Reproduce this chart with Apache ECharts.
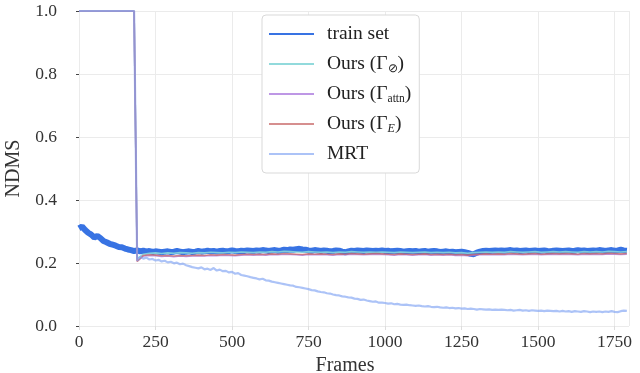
<!DOCTYPE html>
<html>
<head>
<meta charset="utf-8">
<script src="https://cdn.jsdelivr.net/npm/echarts@6/dist/echarts.min.js"></script>
<style>html,body{margin:0;padding:0;background:#fff}#c{width:640px;height:373px}</style>
</head>
<body>
<div id="c"></div>
<script>
// ---- data ----
const xTicks = [0, 250, 500, 750, 1000, 1250, 1500, 1750];
const yTicks = [0.0, 0.2, 0.4, 0.6, 0.8, 1.0];
const seriesNames = ['train set', 'Ours (Γ⊘)', 'Ours (Γattn)', 'Ours (ΓE)', 'MRT'];

// frames 0..1790 step 10
const trainValues = [
  0.310,0.316,0.305,0.296,0.290,0.281,0.286,0.279,0.270,0.266,
  0.261,0.258,0.255,0.251,0.250,0.246,0.243,0.241,0.238,
  0.240,0.237,0.239,0.236,0.238,0.235,0.237,0.236,0.234,0.236,
  0.237,0.235,0.236,0.238,0.236,0.234,0.236,0.237,0.235,0.236,
  0.238,0.236,0.237,0.239,0.237,0.238,0.236,0.238,0.239,0.237,
  0.238,0.240,0.238,0.237,0.239,0.238,0.240,0.239,0.238,0.240,
  0.239,0.241,0.240,0.238,0.240,0.241,0.239,0.240,0.242,0.241,
  0.243,0.242,0.244,0.245,0.243,0.242,0.240,0.239,0.241,0.240,
  0.238,0.240,0.239,0.237,0.238,0.240,0.239,0.236,0.234,0.237,
  0.239,0.238,0.240,0.239,0.238,0.240,0.239,0.238,0.239,0.238,
  0.240,0.238,0.239,0.237,0.238,0.239,0.238,0.236,0.237,0.238,
  0.237,0.238,0.236,0.237,0.238,0.236,0.237,0.238,0.237,0.235,
  0.236,0.237,0.235,0.236,0.234,0.235,0.236,0.234,0.232,0.229,
  0.228,0.233,0.236,0.238,0.239,0.238,0.239,0.240,0.239,0.240,
  0.239,0.240,0.241,0.239,0.240,0.238,0.239,0.240,0.238,0.239,
  0.240,0.238,0.239,0.240,0.238,0.237,0.239,0.240,0.239,0.238,
  0.239,0.240,0.238,0.239,0.241,0.239,0.240,0.238,0.239,0.240,
  0.239,0.241,0.240,0.238,0.240,0.241,0.239,0.240,0.242,0.240,0.239
];

// frames 0..1790 step 10
const mrtValues = [
  1,1,1,1,1,1,1,1,1,1,1,1,1,1,1,1,1,1,1,
  0.208,0.219,0.214,0.217,0.211,0.213,0.208,0.210,0.205,0.207,
  0.202,0.204,0.199,0.201,0.196,0.198,0.193,0.190,0.187,0.185,
  0.183,0.186,0.180,0.182,0.178,0.184,0.176,0.179,0.174,0.175,
  0.170,0.172,0.166,0.168,0.162,0.160,0.158,0.155,0.153,0.151,
  0.148,0.150,0.145,0.144,0.141,0.139,0.137,0.135,0.133,0.131,
  0.129,0.128,0.124,0.123,0.121,0.119,0.117,0.114,0.113,0.110,
  0.108,0.107,0.104,0.103,0.100,0.098,0.097,0.094,0.093,0.091,
  0.090,0.087,0.086,0.083,0.084,0.081,0.079,0.077,0.078,0.074,
  0.074,0.073,0.071,0.072,0.069,0.070,0.068,0.067,0.068,0.066,
  0.065,0.064,0.065,0.063,0.062,0.063,0.061,0.060,0.061,0.059,
  0.058,0.059,0.057,0.058,0.056,0.057,0.055,0.056,0.054,0.055,
  0.054,0.052,0.054,0.053,0.052,0.053,0.051,0.052,0.051,0.052,
  0.051,0.050,0.051,0.049,0.050,0.051,0.049,0.050,0.048,0.050,
  0.049,0.048,0.049,0.047,0.049,0.048,0.047,0.048,0.046,0.048,
  0.046,0.047,0.045,0.047,0.046,0.045,0.047,0.046,0.044,0.046,
  0.045,0.046,0.044,0.046,0.045,0.047,0.045,0.044,0.047,0.049,0.048
];

// frames 0..180 step 10, then 190..1790 step 20
const oursNullValues = [
  1,1,1,1,1,1,1,1,1,1,1,1,1,1,1,1,1,1,1,
  0.214,0.228,0.231,0.232,0.230,0.232,0.231,0.233,0.232,0.231,
  0.233,0.232,0.234,0.233,0.232,0.234,0.233,0.235,0.234,0.233,
  0.235,0.234,0.236,0.235,0.237,0.236,0.235,0.234,0.236,0.235,
  0.234,0.235,0.233,0.235,0.234,0.236,0.235,0.234,0.235,0.234,
  0.235,0.234,0.233,0.235,0.234,0.233,0.234,0.235,0.233,0.234,
  0.233,0.234,0.232,0.233,0.231,0.233,0.234,0.235,0.234,0.235,
  0.234,0.236,0.235,0.234,0.235,0.236,0.234,0.235,0.236,0.235,
  0.236,0.235,0.234,0.236,0.235,0.236,0.235,0.237,0.236,0.235,
  0.236
];
const oursAttnValues = [
  1,1,1,1,1,1,1,1,1,1,1,1,1,1,1,1,1,1,1,
  0.206,0.222,0.224,0.223,0.221,0.222,0.220,0.222,0.221,0.222,
  0.223,0.222,0.224,0.223,0.225,0.224,0.223,0.225,0.226,0.225,
  0.226,0.225,0.227,0.226,0.228,0.227,0.226,0.225,0.227,0.226,
  0.227,0.226,0.225,0.227,0.226,0.228,0.227,0.226,0.227,0.228,
  0.227,0.226,0.225,0.227,0.226,0.225,0.226,0.227,0.225,0.226,
  0.225,0.226,0.224,0.225,0.223,0.225,0.226,0.227,0.226,0.227,
  0.226,0.228,0.227,0.226,0.227,0.228,0.226,0.227,0.228,0.227,
  0.228,0.227,0.226,0.228,0.227,0.228,0.227,0.229,0.228,0.227,
  0.228
];
const oursEValues = [
  1,1,1,1,1,1,1,1,1,1,1,1,1,1,1,1,1,1,1,
  0.205,0.224,0.226,0.225,0.223,0.224,0.222,0.224,0.223,0.224,
  0.225,0.224,0.226,0.225,0.227,0.226,0.225,0.227,0.228,0.227,
  0.228,0.227,0.229,0.228,0.230,0.229,0.228,0.227,0.229,0.228,
  0.229,0.228,0.227,0.229,0.228,0.230,0.229,0.228,0.229,0.230,
  0.229,0.228,0.227,0.229,0.228,0.227,0.228,0.229,0.227,0.228,
  0.227,0.228,0.226,0.227,0.225,0.227,0.228,0.229,0.228,0.229,
  0.228,0.230,0.229,0.228,0.229,0.230,0.228,0.229,0.230,0.229,
  0.230,0.229,0.228,0.230,0.229,0.230,0.229,0.231,0.230,0.229,
  0.230
];

// ---- x positions (frame numbers) ----
const frames10 = [];
for (let f = 0; f <= 1790; f += 10) frames10.push(f);
const framesOurs = [];
for (let f = 0; f <= 180; f += 10) framesOurs.push(f);
for (let f = 190; f <= 1790; f += 20) framesOurs.push(f);

const pair = (xs, ys) => ys.map((v, i) => [xs[i], v]);

const FONT = 'Liberation Serif';
const chart = echarts.init(document.getElementById('c'), null, {renderer: 'canvas'});

function mkLine(name, data, color, width, opacity, z) {
  return {
    name, type: 'line', data, showSymbol: false, symbol: 'none',
    lineStyle: {color, width, opacity}, itemStyle: {color},
    z, animation: false, silent: true
  };
}

chart.setOption({
  animation: false,
  backgroundColor: '#fff',
  grid: {left: 79, right: 11, top: 11, bottom: 47, containLabel: false, outerBoundsMode: 'none'},
  xAxis: {
    type: 'value', min: 0, max: 1797, interval: 250,
    name: 'Frames', nameLocation: 'middle', nameGap: 24,
    nameTextStyle: {fontFamily: FONT, fontSize: 20, color: '#333', padding: [0, 18, 0, 0]},
    axisLine: {show: false},
    axisTick: {show: true, length: 4, lineStyle: {color: '#dddddd'}},
    axisLabel: {fontFamily: FONT, fontSize: 17.5, color: '#333', margin: 7, showMaxLabel: false,
      formatter: v => xTicks.includes(v) ? String(v) : ''},
    splitLine: {show: true, lineStyle: {color: '#ebebeb', width: 1}}
  },
  yAxis: {
    type: 'value', min: 0, max: 1.0, interval: 0.2, offset: 15,
    name: 'NDMS', nameLocation: 'middle', nameGap: 33,
    nameTextStyle: {fontFamily: FONT, fontSize: 20, color: '#333'},
    axisLine: {show: false},
    axisTick: {show: true, length: 3, lineStyle: {color: '#444'}},
    axisLabel: {fontFamily: FONT, fontSize: 17.5, color: '#333', margin: 7,
      formatter: v => yTicks.some(t => Math.abs(t - v) < 1e-9) ? v.toFixed(1) : ''},
    splitLine: {show: true, lineStyle: {color: '#ebebeb', width: 1}}
  },
  legend: {
    orient: 'vertical', left: 262, top: 15,
    padding: [8, 8, 8, 6],
    itemGap: 8, itemWidth: 45, itemHeight: 14,
    backgroundColor: '#fff', borderColor: '#d9d9d9', borderWidth: 1, borderRadius: 4,
    itemStyle: {opacity: 0},
    data: seriesNames,
    textStyle: {
      fontFamily: FONT, fontSize: 19.5, color: '#222', lineHeight: 22, padding: [0, 0, 0, 8],
      rich: {
        s: {fontFamily: FONT, fontSize: 11.5, color: '#222', lineHeight: 12, verticalAlign: 'bottom'},
        si: {fontFamily: FONT, fontSize: 12, fontStyle: 'italic', color: '#222', lineHeight: 12, verticalAlign: 'bottom'}
      }
    },
    formatter: function (n) {
      if (n === 'Ours (Γ⊘)') return 'Ours (Γ{s|⊘})';
      if (n === 'Ours (Γattn)') return 'Ours (Γ{s|attn})';
      if (n === 'Ours (ΓE)') return 'Ours (Γ{si|E})';
      return n;
    }
  },
  series: [
    mkLine(seriesNames[0], pair(frames10, trainValues), '#3873e3', 6, 1, 1),
    mkLine(seriesNames[1], pair(framesOurs, oursNullValues), '#86d6d8', 1.6, 0.9, 2),
    mkLine(seriesNames[2], pair(framesOurs, oursAttnValues), '#a874dc', 1.6, 0.75, 3),
    mkLine(seriesNames[3], pair(framesOurs, oursEValues), '#c8696a', 1.6, 0.75, 4),
    mkLine(seriesNames[4], pair(frames10, mrtValues), '#80a3f2', 2.2, 0.65, 5)
  ]
});
</script>
</body>
</html>
